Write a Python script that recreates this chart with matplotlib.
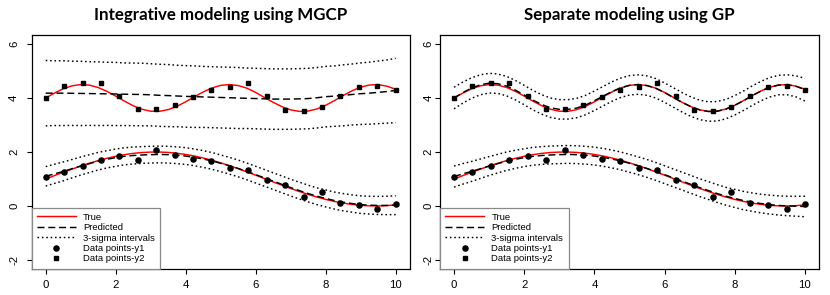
import matplotlib
matplotlib.use("Agg")
import matplotlib.pyplot as plt
from matplotlib.lines import Line2D
import numpy as np

# ---------------- data ----------------
# sample points
x_obs = [0.000, 0.526, 1.053, 1.579, 2.105, 2.632, 3.158, 3.684, 4.211, 4.737,
         5.263, 5.789, 6.316, 6.842, 7.368, 7.895, 8.421, 8.947, 9.474, 10.000]
y1_obs = [1.09, 1.27, 1.475, 1.69, 1.84, 1.71, 2.06, 1.89, 1.74, 1.65,
          1.41, 1.34, 0.96, 0.78, 0.35, 0.50, 0.12, 0.02, -0.10, 0.09]
y2_obs = [3.99, 4.43, 4.55, 4.55, 4.09, 3.61, 3.61, 3.75, 4.04, 4.31,
          4.39, 4.56, 4.06, 3.56, 3.51, 3.67, 4.09, 4.39, 4.44, 4.28]

# curve grid
x_grid = [0.0, 0.25, 0.5, 0.75, 1.0, 1.25, 1.5, 1.75, 2.0, 2.25, 2.5, 2.75, 3.0, 3.25,
          3.5, 3.75, 4.0, 4.25, 4.5, 4.75, 5.0, 5.25, 5.5, 5.75, 6.0, 6.25, 6.5, 6.75,
          7.0, 7.25, 7.5, 7.75, 8.0, 8.25, 8.5, 8.75, 9.0, 9.25, 9.5, 9.75, 10.0]

y1_true = [1.000, 1.125, 1.247, 1.366, 1.479, 1.585, 1.682, 1.768, 1.841, 1.902, 1.949,
           1.981, 1.997, 1.999, 1.984, 1.954, 1.909, 1.850, 1.778, 1.694, 1.598, 1.494,
           1.382, 1.264, 1.141, 1.017, 0.892, 0.769, 0.649, 0.535, 0.428, 0.331, 0.243,
           0.168, 0.105, 0.057, 0.022, 0.004, 0.001, 0.014, 0.041]
y2_true = [4.000, 4.183, 4.341, 4.451, 4.499, 4.477, 4.389, 4.247, 4.071, 3.884, 3.714,
           3.584, 3.511, 3.507, 3.571, 3.692, 3.860, 4.046, 4.225, 4.372, 4.469, 4.500,
           4.462, 4.364, 4.206, 4.021, 3.840, 3.679, 3.560, 3.504, 3.517, 3.594, 3.732,
           3.904, 4.092, 4.265, 4.402, 4.482, 4.496, 4.438, 4.325]

# left panel (MGCP) predictions and 3-sigma half widths
y1_pred_L = [1.10, 1.19, 1.28, 1.38, 1.48, 1.57, 1.66, 1.73, 1.79, 1.84, 1.87,
             1.89, 1.90, 1.91, 1.90, 1.88, 1.85, 1.80, 1.74, 1.67, 1.58, 1.49,
             1.39, 1.28, 1.16, 1.04, 0.92, 0.80, 0.68, 0.57, 0.46, 0.36, 0.28,
             0.20, 0.14, 0.09, 0.05, 0.03, 0.02, 0.02, 0.03]
y1_hw_L = [0.36, 0.355, 0.35, 0.34, 0.335, 0.33, 0.325, 0.32, 0.32, 0.315, 0.315,
           0.31, 0.31, 0.31, 0.31, 0.31, 0.31, 0.31, 0.31, 0.31, 0.31, 0.31,
           0.31, 0.31, 0.31, 0.31, 0.31, 0.31, 0.31, 0.31, 0.31, 0.31, 0.315,
           0.315, 0.32, 0.32, 0.325, 0.33, 0.335, 0.34, 0.35]
y2_pred_L = [4.18, 4.18, 4.18, 4.175, 4.17, 4.165, 4.16, 4.155, 4.15, 4.14, 4.135,
             4.13, 4.12, 4.10, 4.09, 4.075, 4.06, 4.05, 4.04, 4.03, 4.02, 4.01,
             4.00, 3.99, 3.98, 3.97, 3.96, 3.96, 3.96, 3.97, 3.98, 4.01, 4.05,
             4.07, 4.10, 4.13, 4.16, 4.18, 4.21, 4.24, 4.28]
y2_hw_L = [1.21, 1.20, 1.20, 1.19, 1.19, 1.18, 1.18, 1.17, 1.17, 1.16, 1.16,
           1.16, 1.15, 1.15, 1.15, 1.14, 1.14, 1.14, 1.13, 1.13, 1.13, 1.13,
           1.13, 1.12, 1.12, 1.12, 1.12, 1.12, 1.12, 1.12, 1.12, 1.12, 1.12,
           1.12, 1.13, 1.13, 1.14, 1.15, 1.16, 1.17, 1.19]

# right panel (separate GP) predictions and 3-sigma half widths
y1_pred_R = [1.09, 1.19, 1.28, 1.38, 1.48, 1.57, 1.66, 1.73, 1.79, 1.84, 1.87,
             1.89, 1.90, 1.91, 1.90, 1.88, 1.85, 1.80, 1.74, 1.67, 1.58, 1.49,
             1.39, 1.28, 1.16, 1.04, 0.92, 0.80, 0.68, 0.57, 0.46, 0.36, 0.28,
             0.20, 0.14, 0.09, 0.05, 0.02, 0.00, -0.01, -0.02]
y1_hw_R = [0.39, 0.38, 0.37, 0.36, 0.35, 0.345, 0.34, 0.335, 0.33, 0.33, 0.33,
           0.33, 0.33, 0.33, 0.33, 0.33, 0.33, 0.33, 0.33, 0.33, 0.33, 0.33,
           0.33, 0.33, 0.33, 0.33, 0.33, 0.33, 0.33, 0.33, 0.33, 0.33, 0.335,
           0.34, 0.34, 0.345, 0.35, 0.355, 0.36, 0.37, 0.38]
y2_pred_R = [4.00, 4.20, 4.37, 4.49, 4.55, 4.53, 4.44, 4.29, 4.11, 3.92, 3.76,
             3.64, 3.58, 3.58, 3.63, 3.74, 3.90, 4.07, 4.24, 4.38, 4.47, 4.50,
             4.46, 4.36, 4.20, 4.02, 3.84, 3.68, 3.56, 3.50, 3.51, 3.59, 3.73,
             3.90, 4.09, 4.26, 4.40, 4.48, 4.49, 4.43, 4.31]
y2_hw_R = [0.40, 0.39, 0.38, 0.37, 0.365, 0.36, 0.36, 0.36, 0.36, 0.36, 0.36,
           0.36, 0.36, 0.36, 0.36, 0.36, 0.36, 0.36, 0.36, 0.36, 0.36, 0.36,
           0.36, 0.36, 0.36, 0.36, 0.36, 0.36, 0.36, 0.36, 0.36, 0.36, 0.36,
           0.36, 0.36, 0.36, 0.36, 0.36, 0.37, 0.39, 0.42]

titles = ["Integrative modeling using MGCP", "Separate modeling using GP"]
x_ticks = [0, 2, 4, 6, 8, 10]
y_ticks = [-2, 0, 2, 4, 6]
legend_labels = ["True", "Predicted", "3-sigma intervals", "Data points-y1", "Data points-y2"]

# ---------------- plotting ----------------
plt.rcParams['font.family'] = ['Liberation Sans', 'DejaVu Sans']

fig = plt.figure(figsize=(8.3, 2.95), dpi=100)
axL = fig.add_axes([31.7 / 830, 0.0895, 378 / 830, 0.7905])
axR = fig.add_axes([440 / 830, 0.0895, 379 / 830, 0.7905])

LW = 1.05
DASH = (0, (4.8, 2.6))
DOT = (0, (1.1, 1.9))
MS_C = 3.7
MS_S = 3.2

panels = [
    (axL, titles[0], y1_pred_L, y1_hw_L, y2_pred_L, y2_hw_L, 5.5),
    (axR, titles[1], y1_pred_R, y1_hw_R, y2_pred_R, y2_hw_R, 1.0),
]

xg = np.array(x_grid)
for ax, title, p1, h1, p2, h2, ypad in panels:
    p1 = np.array(p1); h1 = np.array(h1); p2 = np.array(p2); h2 = np.array(h2)
    # y1
    ax.plot(xg, y1_true, color='#ff0000', lw=LW, zorder=3)
    ax.plot(xg, p1, color='black', lw=LW, linestyle=DASH, zorder=4)
    ax.plot(xg, p1 + h1, color='black', lw=LW, linestyle=DOT, zorder=2)
    ax.plot(xg, p1 - h1, color='black', lw=LW, linestyle=DOT, zorder=2)
    # y2
    ax.plot(xg, y2_true, color='#ff0000', lw=LW, zorder=3)
    ax.plot(xg, p2, color='black', lw=LW, linestyle=DASH, zorder=4)
    ax.plot(xg, p2 + h2, color='black', lw=LW, linestyle=DOT, zorder=2)
    ax.plot(xg, p2 - h2, color='black', lw=LW, linestyle=DOT, zorder=2)
    # data points
    ax.plot(x_obs, y1_obs, 'o', color='black', ms=MS_C, zorder=5)
    ax.plot(x_obs, y2_obs, 's', color='black', ms=MS_S, zorder=5)

    ax.set_xlim(-0.4, 10.4)
    ax.set_ylim(-2.32, 6.32)
    ax.set_xticks(x_ticks)
    ax.set_yticks(y_ticks)
    ax.set_xticklabels([str(t) for t in x_ticks])
    ax.set_yticklabels([str(t) for t in y_ticks], rotation=90, va='center')
    ax.tick_params(axis='x', direction='out', length=3.6, width=0.8, labelsize=8.2, pad=4.5)
    ax.tick_params(axis='y', direction='out', length=3.6, width=0.8, labelsize=8.2, pad=ypad)
    for s in ax.spines.values():
        s.set_linewidth(0.9)
        s.set_color('black')

    ax.set_title(title, fontsize=12.2, fontweight='bold', family=['Lato', 'DejaVu Sans'], pad=11)

    handles = [
        Line2D([], [], color='#ff0000', lw=LW),
        Line2D([], [], color='black', lw=LW, linestyle=DASH),
        Line2D([], [], color='black', lw=LW, linestyle=DOT),
        Line2D([], [], color='black', marker='o', linestyle='none', ms=MS_C),
        Line2D([], [], color='black', marker='s', linestyle='none', ms=MS_S),
    ]
    leg = ax.legend(handles, legend_labels, loc='lower left', borderaxespad=0,
                    fancybox=False, framealpha=1, edgecolor='#888888',
                    fontsize=6.8, handlelength=4.1, handletextpad=0.8,
                    labelspacing=0.15, borderpad=0.55, numpoints=1)
    leg.get_frame().set_linewidth(0.9)
    leg.set_zorder(10)

fig.savefig("out.png", dpi=100)
